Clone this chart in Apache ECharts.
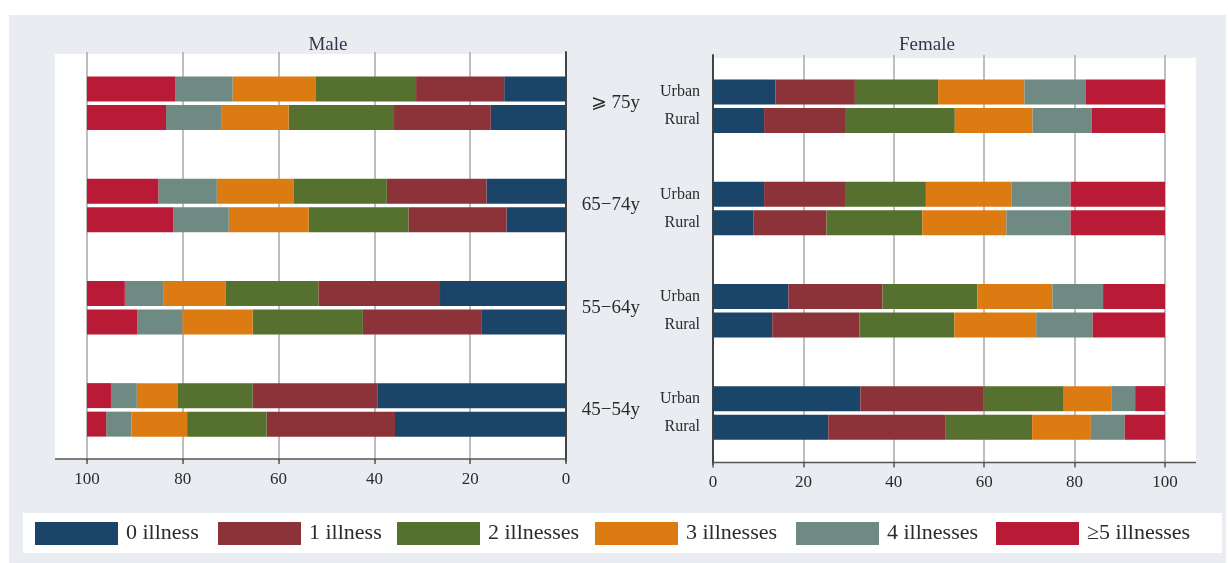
<!DOCTYPE html>
<html><head><meta charset="utf-8">
<script src="https://cdn.jsdelivr.net/npm/echarts@6/dist/echarts.min.js"></script>
<style>html,body{margin:0;padding:0;background:#fff}#c{width:1228px;height:563px}</style>
</head><body><div id="c"></div>
<script>
// ---- data ----
const ageGroups = ['⩾ 75y', '65−74y', '55−64y', '45−54y'];
const areas = ['Urban', 'Rural'];
const illnessLevels = ['0 illness', '1 illness', '2 illnesses', '3 illnesses', '4 illnesses', '≥5 illnesses'];
const panelTitles = ['Male', 'Female'];
const xTicks = [0, 20, 40, 60, 80, 100];
// rows: age groups (as ageGroups), columns: illness levels (as illnessLevels), percent
const maleUrban = [
  [12.9, 18.4, 20.9, 17.4, 12.0, 18.4],
  [16.6, 20.8, 19.4, 16.1, 12.2, 14.9],
  [26.3, 25.4, 19.3, 13.1, 8.0, 7.9],
  [39.4, 26.0, 15.6, 8.6, 5.4, 5.0]
];
const maleRural = [
  [15.7, 20.2, 22.0, 14.1, 11.5, 16.5],
  [12.4, 20.5, 20.8, 16.7, 11.6, 18.0],
  [17.7, 24.7, 23.0, 14.7, 9.4, 10.5],
  [35.7, 26.8, 16.6, 11.6, 5.3, 4.0]
];
const femaleUrban = [
  [13.8, 17.6, 18.4, 19.1, 13.5, 17.6],
  [11.3, 17.9, 17.9, 18.9, 13.1, 20.9],
  [16.7, 20.8, 21.0, 16.6, 11.2, 13.7],
  [32.6, 27.3, 17.7, 10.5, 5.3, 6.6]
];
const femaleRural = [
  [11.3, 18.1, 24.1, 17.2, 13.1, 16.2],
  [8.9, 16.2, 21.2, 18.6, 14.2, 20.9],
  [13.1, 19.3, 21.0, 18.1, 12.5, 16.0],
  [25.5, 26.0, 19.1, 13.0, 7.5, 8.9]
];

// ---- styles ----
const colors = ['#1b4469', '#8c3339', '#56702f', '#dc7b12', '#6e8a82', '#b91b36'];
const SERIF = 'Liberation Serif, Times New Roman, serif';
const TXT = '#2b2b2b';

const panels = [
  { urban: maleUrban, rural: maleRural },
  { urban: femaleUrban, rural: femaleRural }
];

const series = [];
panels.forEach((p, pi) => {
  [p.urban, p.rural].forEach((table, ai) => {
    illnessLevels.forEach((lvl, k) => {
      series.push({
        name: lvl,
        type: 'bar',
        xAxisIndex: pi,
        yAxisIndex: pi,
        stack: 'p' + pi + areas[ai],
        barWidth: 25,
        barGap: '14%',
        itemStyle: { color: colors[k] },
        emphasis: { disabled: true },
        data: ageGroups.map((g, gi) => table[gi][k])
      });
    });
  });
});

const xAxisCommon = {
  type: 'value', min: 0, max: 100, interval: 20,
  axisLine: { show: false },
  axisTick: { show: true, length: 5, lineStyle: { color: '#555', width: 1.5 } },
  axisLabel: { fontFamily: SERIF, fontSize: 17, color: TXT, margin: 12 },
  splitLine: { show: true, lineStyle: { color: '#a9a9a9', width: 1.5 } }
};

const legendX = [35, 218, 397, 595, 796, 996];
const legends = illnessLevels.map((lvl, k) => ({
  data: [lvl], left: legendX[k], top: 522, padding: 0,
  itemWidth: 83, itemHeight: 23, icon: 'rect', selectedMode: false,
  textStyle: { fontFamily: SERIF, fontSize: 22, color: TXT, padding: [0, 0, 0, 3] }
}));

const option = {
  backgroundColor: '#ffffff',
  animation: false,
  title: [
    { text: panelTitles[0], left: 323, top: 31, textAlign: 'center',
      textStyle: { fontFamily: SERIF, fontSize: 19, fontWeight: 'normal', color: '#34344c' } },
    { text: panelTitles[1], left: 922, top: 31, textAlign: 'center',
      textStyle: { fontFamily: SERIF, fontSize: 19, fontWeight: 'normal', color: '#34344c' } }
  ],
  legend: legends,
  grid: [
    { left: 87, width: 479, top: 52, height: 409 },
    { left: 713, width: 452, top: 55, height: 409 }
  ],
  xAxis: [
    Object.assign({}, xAxisCommon, { gridIndex: 0, inverse: true, offset: -2 }),
    Object.assign({}, xAxisCommon, { gridIndex: 1, offset: -1.5 })
  ],
  yAxis: [
    { type: 'category', gridIndex: 0, data: ageGroups, inverse: true, position: 'right',
      axisLine: { show: true, lineStyle: { color: '#444', width: 2 } },
      axisTick: { show: false },
      axisLabel: { align: 'right', margin: 74, fontFamily: SERIF, fontSize: 19, color: TXT, padding: [6, 0, 0, 0] } },
    { type: 'category', gridIndex: 1, data: ageGroups, inverse: true, position: 'left',
      axisLine: { show: true, lineStyle: { color: '#444', width: 2 } },
      axisTick: { show: false },
      axisLabel: { align: 'right', margin: 13, fontFamily: SERIF, fontSize: 16, color: TXT,
        lineHeight: 28, padding: [4, 0, 0, 0], formatter: () => areas.join('\n') } }
  ],
  graphic: [
    { type: 'rect', z: -100, silent: true, shape: { x: 9, y: 15, width: 1217, height: 548 }, style: { fill: '#e9edf2' } },
    { type: 'rect', z: -90, silent: true, shape: { x: 55, y: 54, width: 511, height: 405 }, style: { fill: '#ffffff' } },
    { type: 'rect', z: -90, silent: true, shape: { x: 713, y: 58, width: 483, height: 405 }, style: { fill: '#ffffff' } },
    { type: 'rect', z: -90, silent: true, shape: { x: 23, y: 513, width: 1199, height: 40 }, style: { fill: '#ffffff' } },
    { type: 'line', z: 50, silent: true, shape: { x1: 55, y1: 459, x2: 566, y2: 459 }, style: { stroke: '#555', lineWidth: 1.5 } },
    { type: 'line', z: 50, silent: true, shape: { x1: 713, y1: 462.5, x2: 1196, y2: 462.5 }, style: { stroke: '#555', lineWidth: 1.5 } }
  ],
  series: series
};

const chart = echarts.init(document.getElementById('c'), null, { renderer: 'canvas' });
chart.setOption(option);
</script>
</body></html>
